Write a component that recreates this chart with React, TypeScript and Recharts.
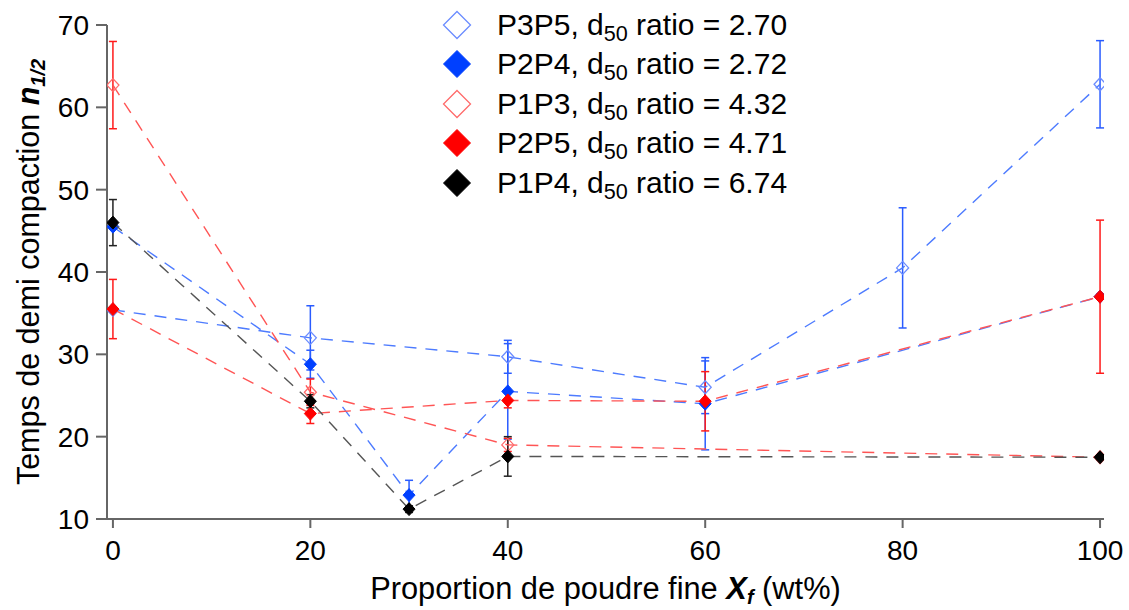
import React from 'react';
import { ScatterChart, Scatter, XAxis, YAxis, ErrorBar, Legend, Label } from 'recharts';

// fine powder proportion (wt%) and n1/2 values
const xP3P5 = [0, 20, 40, 60, 80, 100];
const yP3P5 = [35.4, 32.0, 29.7, 26.0, 40.5, 62.8];
const eP3P5 = [0.3, 3.9, 2.0, 3.2, 7.3, 5.3];

const xP2P4 = [0, 20, 30, 40, 60, 100];
const yP2P4 = [45.5, 28.8, 12.9, 25.5, 24.0, 37.0];
const eP2P4 = [0.3, 1.7, 1.8, 5.8, 5.6, 0.3];

const xP1P3 = [0, 20, 40, 100];
const yP1P3 = [62.7, 25.4, 19.0, 17.5];
const eP1P3 = [5.3, 1.6, 0.8, 0.3];

const xP2P5 = [0, 20, 40, 60, 100];
const yP2P5 = [35.5, 22.8, 24.4, 24.3, 37.0];
const eP2P5 = [3.6, 1.2, 0.9, 3.6, 9.3];

const xP1P4 = [0, 20, 30, 40, 100];
const yP1P4 = [46.0, 24.3, 11.2, 17.6, 17.5];
const eP1P4 = [2.8, 0.8, 0.4, 2.4, 0.3];

const seriesNames = ['P3P5', 'P2P4', 'P1P3', 'P2P5', 'P1P4'];
const d50Ratios = ['2.70', '2.72', '4.32', '4.71', '6.74'];

const xTicks = [0, 20, 40, 60, 80, 100];
const yTicks = [10, 20, 30, 40, 50, 60, 70];

const FONT = "'Liberation Sans', Arial, sans-serif";

const toPoints = (xs: number[], ys: number[], es: number[]) =>
  xs.map((x, i) => ({ x, y: ys[i], err: es[i] }));

const series = [
  { data: toPoints(xP3P5, yP3P5, eP3P5), open: true, color: '#6b8cff', line: '#4d7bff', err: '#2a5cff' },
  { data: toPoints(xP2P4, yP2P4, eP2P4), open: false, color: '#0040ff', line: '#4d7bff', err: '#2a5cff' },
  { data: toPoints(xP1P3, yP1P3, eP1P3), open: true, color: '#ff6b6b', line: '#ff5555', err: '#ff1a1a' },
  { data: toPoints(xP2P5, yP2P5, eP2P5), open: false, color: '#ff0000', line: '#ff5555', err: '#ff1a1a' },
  { data: toPoints(xP1P4, yP1P4, eP1P4), open: false, color: '#000000', line: '#555555', err: '#222222' },
].map((s, i) => ({ ...s, name: seriesNames[i], ratio: d50Ratios[i] }));

const Diamond = ({ cx, cy, open, color, w = 6, h = 6.5 }: any) => {
  if (cx == null || cy == null) return null;
  return (
    <polygon
      points={`${cx},${cy - h} ${cx + w},${cy} ${cx},${cy + h} ${cx - w},${cy}`}
      fill={open ? 'none' : color}
      stroke={color}
      strokeWidth={open ? 1.3 : 1}
    />
  );
};

const renderLegend = () => (
  <div style={{ fontFamily: FONT, fontSize: 30, color: '#000' }}>
    {series.map((s) => (
      <div key={s.name} style={{ display: 'flex', alignItems: 'center', height: 39.5 }}>
        <svg width={30} height={30} style={{ flex: 'none' }}>
          <polygon
            points="15,1.5 28.5,15 15,28.5 1.5,15"
            fill={s.open ? 'white' : s.color}
            stroke={s.color}
            strokeWidth={s.open ? 1.3 : 1}
          />
        </svg>
        <span style={{ marginLeft: 25, whiteSpace: 'nowrap' }}>
          {s.name}, d
          <sub style={{ fontSize: '0.72em', lineHeight: 0, verticalAlign: '-0.3em' }}>50</sub> ratio = {s.ratio}
        </span>
      </div>
    ))}
  </div>
);

const XTitle = ({ viewBox }: any) => {
  const { x, y, width } = viewBox;
  return (
    <text x={x + width / 2} y={y + 80} textAnchor="middle" fontFamily={FONT} fontSize={30.8} fill="#000">
      Proportion de poudre fine{' '}
      <tspan fontWeight="bold" fontStyle="italic">X</tspan>
      <tspan fontWeight="bold" fontStyle="italic" fontSize={20} dy={5}>f</tspan>
      <tspan dy={-5}> (wt%)</tspan>
    </text>
  );
};

const YTitle = ({ viewBox }: any) => {
  const { y, height } = viewBox;
  const cx = 39;
  const cy = y + height / 2;
  return (
    <text
      x={cx}
      y={cy}
      transform={`rotate(-90, ${cx}, ${cy})`}
      textAnchor="middle"
      fontFamily={FONT}
      fontSize={30.5}
      fill="#000"
    >
      Temps de demi compaction{' '}
      <tspan fontWeight="bold" fontStyle="italic">n</tspan>
      <tspan fontWeight="bold" fontStyle="italic" fontSize={20} dy={6}>1/2</tspan>
    </text>
  );
};

const axisStroke = { stroke: '#666', strokeWidth: 2 };

export default function App() {
  return (
    <div style={{ position: 'absolute', left: 0, top: 0, background: '#fff' }}>
      <ScatterChart width={1129} height={610} margin={{ top: 25, right: 25, bottom: 0, left: 0 }}>
        <XAxis
          type="number"
          dataKey="x"
          domain={[-0.6, 100.4]}
          ticks={xTicks}
          height={91}
          tickSize={9}
          tickMargin={12}
          axisLine={axisStroke}
          tickLine={axisStroke}
          tick={{ fill: '#000', fontSize: 28, fontFamily: FONT }}
          allowDataOverflow
        >
          <Label content={<XTitle />} />
        </XAxis>
        <YAxis
          type="number"
          dataKey="y"
          domain={[10, 70]}
          ticks={yTicks}
          width={107}
          tickSize={11}
          tickMargin={7}
          axisLine={axisStroke}
          tickLine={axisStroke}
          tick={{ fill: '#000', fontSize: 28, fontFamily: FONT }}
          allowDataOverflow
        >
          <Label content={<YTitle />} />
        </YAxis>
        <Legend
          content={renderLegend}
          layout="vertical"
          align="center"
          verticalAlign="middle"
          wrapperStyle={{ top: 5, left: 442, width: 420 }}
        />
        {series.map((s) => (
          <Scatter
            key={s.name}
            name={s.name}
            data={s.data}
            isAnimationActive={false}
            line={{ stroke: s.line, strokeWidth: 1.4, strokeDasharray: '12 9' }}
            lineType="joint"
            shape={(p: any) => <Diamond cx={p.cx} cy={p.cy} open={s.open} color={s.color} />}
          >
            <ErrorBar
              dataKey="err"
              direction="y"
              width={4}
              stroke={s.err}
              strokeWidth={1.5}
              isAnimationActive={false}
            />
          </Scatter>
        ))}
      </ScatterChart>
    </div>
  );
}
